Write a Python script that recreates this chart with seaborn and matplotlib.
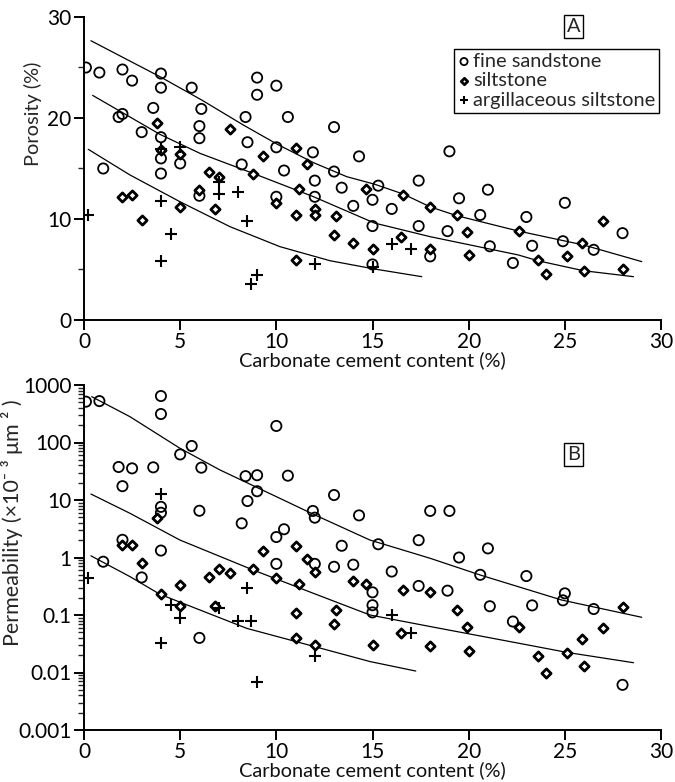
import numpy as np
import pandas as pd
import matplotlib
matplotlib.use("Agg")
import matplotlib.pyplot as plt
import matplotlib.ticker as mticker
import seaborn as sns

# ---------------- Panel A: porosity ----------------
sand_a_x = [0.1, 0.8, 2.0, 2.5, 4.0, 4.0, 3.6, 1.8, 2.0, 3.0, 1.0, 4.0, 4.0, 4.0, 5.0, 5.6, 6.1, 6.0, 6.0, 6.0,
            8.4, 8.5, 8.2, 9.0, 9.0, 10.0, 10.0, 10.0, 10.6, 10.4, 11.9, 12.0, 12.0, 13.0, 13.0, 13.4, 14.3, 15.3,
            15.0, 14.0, 16.0, 15.0, 15.0, 17.4, 17.4, 18.0, 19.0, 19.5, 18.9, 21.0, 20.6, 21.1, 23.0, 22.3, 23.3,
            25.0, 24.9, 26.5, 28.0]
sand_a_y = [25.0, 24.5, 24.8, 23.7, 24.4, 23.0, 21.0, 20.1, 20.4, 18.6, 15.0, 18.1, 16.0, 14.5, 15.5, 23.0, 20.9,
            19.2, 18.0, 12.3, 20.1, 17.6, 15.4, 24.0, 22.3, 23.2, 17.1, 12.2, 20.1, 14.8, 16.6, 13.8, 12.2, 19.1,
            14.7, 13.1, 16.2, 13.3, 11.9, 11.3, 11.0, 9.3, 5.5, 13.8, 9.3, 6.3, 16.7, 12.05, 8.8, 12.9, 10.4, 7.3,
            10.2, 5.65, 7.35, 11.6, 7.8, 6.95, 8.6]

silt_a_x = [3.8, 4.0, 5.0, 2.0, 2.5, 3.0, 5.0, 6.0, 6.5, 7.0, 6.8, 7.6, 8.8, 9.3, 10.0, 11.0, 11.6, 11.2, 11.0,
            11.0, 12.0, 12.0, 13.0, 13.1, 14.65, 14.0, 15.0, 16.6, 16.5, 18.0, 18.0, 19.4, 19.9, 20.0, 22.6, 23.6,
            24.0, 25.1, 25.9, 26.0, 27.0, 28.0]
silt_a_y = [19.5, 16.8, 16.4, 12.2, 12.4, 9.9, 11.15, 12.9, 14.65, 14.2, 10.95, 18.9, 14.5, 16.2, 11.55, 17.05,
            15.4, 13.0, 10.4, 5.9, 10.95, 10.4, 8.4, 10.3, 13.0, 7.65, 7.0, 12.4, 8.25, 11.2, 7.0, 10.4, 8.75, 6.4,
            8.8, 5.9, 4.6, 6.3, 7.65, 4.9, 9.8, 5.0]

argi_a_x = [0.2, 4.0, 4.0, 4.5, 5.0, 4.0, 7.0, 7.0, 8.0, 8.5, 8.7, 9.0, 12.0, 15.0, 16.0, 17.0]
argi_a_y = [10.35, 11.75, 5.8, 8.55, 17.15, 16.9, 13.7, 12.45, 12.65, 9.8, 3.55, 4.45, 5.55, 5.2, 7.5, 7.0]

# trend curves (x, porosity)
curve_a1_x = [0.36, 3.95, 6.12, 8.28, 10.02, 11.93, 13.66, 15.1, 16.6, 18.0, 19.38, 22.58, 25.97, 29.0]
curve_a1_y = [27.65, 24.09, 21.78, 19.31, 17.43, 15.58, 14.19, 13.45, 12.47, 11.2, 10.33, 8.81, 7.43, 5.78]
curve_a2_x = [0.45, 3.95, 6.03, 8.79, 11.93, 15.1, 18.0, 22.58, 23.59, 25.97, 28.57]
curve_a2_y = [22.24, 18.38, 16.5, 14.52, 12.21, 9.6, 8.25, 6.44, 5.87, 4.88, 4.29]
curve_a3_x = [0.22, 2.39, 4.99, 7.59, 10.19, 12.79, 15.1, 17.56]
curve_a3_y = [16.9, 14.36, 11.71, 9.24, 7.26, 5.87, 5.05, 4.29]

# ---------------- Panel B: permeability ----------------
sand_b_x = [0.1, 0.8, 4.0, 4.0, 5.0, 5.6, 6.1, 1.8, 2.5, 3.6, 2.0, 4.0, 4.0, 6.0, 2.0, 4.0, 1.0, 3.0, 6.0, 10.0,
            8.4, 9.0, 10.6, 9.0, 8.5, 8.2, 10.0, 10.4, 10.0, 11.9, 12.0, 12.0, 13.0, 13.0, 13.4, 14.3, 15.3, 14.0,
            15.0, 15.0, 15.0, 16.0, 17.4, 17.4, 18.0, 19.0, 19.5, 18.9, 21.0, 20.6, 21.1, 23.0, 22.3, 23.3, 25.0,
            24.9, 26.5, 28.0]
sand_b_y = [513, 525, 643, 313, 62, 87, 36.5, 37.5, 35.5, 37, 17.4, 7.6, 6.0, 6.5, 2.03, 1.32, 0.845, 0.45, 0.04,
            194, 26, 27, 26.5, 14.2, 9.6, 3.93, 2.27, 3.1, 0.775, 6.45, 4.93, 0.775, 12.2, 0.69, 1.6, 5.4, 1.7,
            0.75, 0.248, 0.148, 0.111, 0.57, 2.0, 0.32, 6.46, 6.46, 1.0, 0.265, 1.44, 0.5, 0.142, 0.476, 0.077,
            0.147, 0.238, 0.18, 0.127, 0.0061]

silt_b_x = [3.8, 2.0, 2.5, 3.0, 4.0, 5.0, 5.0, 6.5, 7.0, 7.6, 6.8, 8.8, 9.3, 10.0, 11.0, 11.6, 11.2, 12.0, 11.0,
            11.0, 12.0, 13.0, 13.1, 14.0, 14.65, 15.0, 16.6, 16.5, 18.0, 18.0, 19.4, 19.9, 20.0, 22.6, 23.6, 24.0,
            25.1, 25.9, 26.0, 27.0, 28.0]
silt_b_y = [4.9, 1.62, 1.62, 0.79, 0.228, 0.335, 0.145, 0.465, 0.62, 0.53, 0.146, 0.62, 1.3, 0.44, 1.59, 0.935,
            0.347, 0.56, 0.11, 0.04, 0.03, 0.07, 0.12, 0.383, 0.348, 0.0295, 0.27, 0.049, 0.248, 0.029, 0.122,
            0.061, 0.0237, 0.063, 0.0195, 0.0098, 0.022, 0.039, 0.013, 0.059, 0.138]

argi_b_x = [0.2, 4.0, 4.0, 4.5, 5.0, 7.0, 8.5, 8.0, 8.7, 9.0, 12.0, 16.0, 17.0]
argi_b_y = [0.435, 12.6, 0.032, 0.147, 0.09, 0.131, 0.30, 0.079, 0.079, 0.0068, 0.019, 0.099, 0.0485]

curve_b1_x = [0.4, 2.39, 4.99, 7.07, 8.98, 11.93, 14.87, 18.0, 20.59, 24.84, 29.0]
curve_b1_y = [627, 281, 79.3, 33.3, 16.6, 5.64, 2.01, 0.968, 0.497, 0.182, 0.0912]
curve_b2_x = [0.36, 2.39, 4.99, 8.79, 11.93, 14.87, 18.0, 22.58, 25.1, 28.57]
curve_b2_y = [12.7, 5.87, 2.01, 0.607, 0.238, 0.1, 0.063, 0.0324, 0.0224, 0.0148]
curve_b3_x = [0.36, 2.39, 3.95, 8.46, 12.01, 14.87, 17.25]
curve_b3_y = [1.07, 0.465, 0.229, 0.0586, 0.0281, 0.0155, 0.0106]

x_ticks = [0, 5, 10, 15, 20, 25, 30]
poro_ticks = [0, 10, 20, 30]
perm_ticks = [0.001, 0.01, 0.1, 1, 10, 100, 1000]
perm_labels = ["0.001", "0.01", "0.1", "1", "10", "100", "1000"]
legend_labels = ["fine sandstone", "siltstone", "argillaceous siltstone"]
xlabel = "Carbonate cement content (%)"

# ---------------- styling ----------------
sns.set_theme(style="ticks")
FONT = ["Lato", "DejaVu Sans"]
plt.rcParams["font.family"] = FONT
plt.rcParams["axes.linewidth"] = 1.4
plt.rcParams["xtick.major.width"] = 1.4
plt.rcParams["ytick.major.width"] = 1.4
plt.rcParams["ytick.minor.width"] = 1.0
plt.rcParams["xtick.major.size"] = 7
plt.rcParams["ytick.major.size"] = 7
plt.rcParams["ytick.minor.size"] = 4
plt.rcParams["xtick.direction"] = "out"
plt.rcParams["ytick.direction"] = "out"

W, H = 675, 782
fig = plt.figure(figsize=(W / 100, H / 100), dpi=100)
fig.patch.set_facecolor("white")

def axes_px(left, top, right, bottom):
    return fig.add_axes([left / W, 1 - bottom / H, (right - left) / W, (bottom - top) / H])

axA = axes_px(84, 17, 661, 320)
axB = axes_px(84, 385, 661, 730)

TICK_FS = 15
LABEL_FS = 14.4

def draw(ax, sx, sy, dx, dy, px, py, curves):
    sns.scatterplot(x=sx, y=sy, ax=ax, marker="o", s=54, facecolor="none", edgecolor="black",
                    linewidth=1.3, label=legend_labels[0], zorder=3)
    sns.scatterplot(x=dx, y=dy, ax=ax, marker="D", s=22, facecolor="white", edgecolor="black",
                    linewidth=2.0, label=legend_labels[1], zorder=3)
    sns.scatterplot(x=px, y=py, ax=ax, marker="+", s=64, color="black",
                    linewidth=1.5, label=legend_labels[2], zorder=3)
    for cx, cy in curves:
        sns.lineplot(x=cx, y=cy, ax=ax, color="black", linewidth=0.9, sort=False,
                     estimator=None, zorder=2)
    ax.set_xlim(0, 30)
    ax.set_xticks(x_ticks)
    ax.set_xticklabels([str(t) for t in x_ticks])
    ax.tick_params(axis="both", labelsize=TICK_FS, colors="black", pad=2)
    ax.set_xlabel(xlabel, fontsize=LABEL_FS, labelpad=-1, color="#111111")
    sns.despine(ax=ax)
    for s in ("left", "bottom"):
        ax.spines[s].set_color("black")

draw(axA, sand_a_x, sand_a_y, silt_a_x, silt_a_y, argi_a_x, argi_a_y,
     [(curve_a1_x, curve_a1_y), (curve_a2_x, curve_a2_y), (curve_a3_x, curve_a3_y)])
axA.set_ylim(0, 30)
axA.set_yticks(poro_ticks)
axA.yaxis.set_minor_locator(mticker.MultipleLocator(5))
axA.set_ylabel("Porosity (%)", fontsize=LABEL_FS)
axA.yaxis.set_label_coords(-0.072, 0.68)
leg = axA.legend(loc="upper right", bbox_to_anchor=(0.997, 0.895), borderaxespad=0,
                 frameon=True, fancybox=False, edgecolor="black", fontsize=LABEL_FS,
                 handlelength=0.6, handletextpad=0.15, borderpad=0.2, labelspacing=0.12,
                 markerscale=0.7, framealpha=1)
leg.get_frame().set_linewidth(1.0)
axA.text(0.848, 0.968, "A", transform=axA.transAxes, ha="center", va="center", fontsize=LABEL_FS,
         bbox=dict(boxstyle="square,pad=0.15", facecolor="white", edgecolor="black", linewidth=1.0))

draw(axB, sand_b_x, sand_b_y, silt_b_x, silt_b_y, argi_b_x, argi_b_y,
     [(curve_b1_x, curve_b1_y), (curve_b2_x, curve_b2_y), (curve_b3_x, curve_b3_y)])
axB.set_yscale("log")
axB.set_ylim(0.001, 1000)
axB.set_yticks(perm_ticks)
axB.set_yticklabels(perm_labels)
axB.yaxis.set_minor_locator(mticker.LogLocator(base=10, subs=np.arange(2, 10)))
axB.yaxis.set_minor_formatter(mticker.NullFormatter())
axB.set_ylabel("Permeability (\u00d710\u207b \u00b3 \u03bcm \u00b2 )", fontsize=15.5)
axB.yaxis.set_label_coords(-0.106, 0.60)
axB.get_legend().remove()
axB.text(0.849, 0.800, "B", transform=axB.transAxes, ha="center", va="center", fontsize=LABEL_FS,
         bbox=dict(boxstyle="square,pad=0.15", facecolor="white", edgecolor="black", linewidth=1.0))

fig.savefig("out.png", dpi=100, facecolor="white")
